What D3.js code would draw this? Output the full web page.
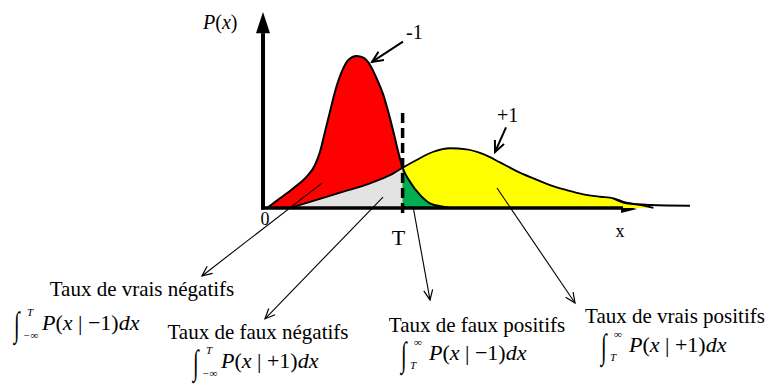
<!DOCTYPE html>
<html>
<head>
<meta charset="utf-8">
<script src="https://cdn.jsdelivr.net/npm/d3@7"></script>
<style>
  body { margin: 0; background: #fff; }
  svg text { font-family: "Liberation Serif", "Times New Roman", serif; fill: #000; }
</style>
</head>
<body>
<div id="chart"></div>
<script>
// decision threshold
var T = 34.9;

// class -1 density
var negX = [1.0, 4.25, 7.6, 10.9, 13, 14.25, 15.5, 16.75, 18, 19.7, 21.3, 23.4, 25.1, 26.75, 28.4, 30.1, 31.3, 32.6, 33.8, 34.9, 36.75, 39.25, 41.75, 45.1, 46.75];
var negP = [0, 0.064, 0.13, 0.206, 0.283, 0.37, 0.502, 0.634, 0.765, 0.897, 0.974, 1.0, 0.989, 0.941, 0.853, 0.743, 0.634, 0.502, 0.37, 0.265, 0.173, 0.086, 0.031, 0.009, 0];

// class +1 density
var posX = [6.75, 11.75, 20.1, 26.75, 30.9, 32.6, 34.9, 38.4, 42.6, 46.75, 50.9, 55.1, 59.25, 63.4, 67.6, 71.75, 75.9, 80.1, 84.25, 87.6, 90.1, 94.25, 97.6];
var posP = [0, 0.041, 0.107, 0.162, 0.206, 0.228, 0.265, 0.316, 0.37, 0.393, 0.386, 0.354, 0.3, 0.243, 0.195, 0.151, 0.118, 0.09, 0.074, 0.064, 0.041, 0.02, 0];

// the +1 outline keeps running along the axis after the fill stops
var posTailX = [87.6, 90.9, 96.75, 106.75];
var posTailP = [0.064, 0.031, 0.02, 0.015];

var labels = {
  vn: ["Taux de vrais négatifs", "\u2212\u221E", "T", "\u22121"],
  fn: ["Taux de faux négatifs", "\u2212\u221E", "T", "+1"],
  fp: ["Taux de faux positifs", "T", "\u221E", "\u22121"],
  vp: ["Taux de vrais positifs", "T", "\u221E", "+1"]
};

var width = 772, height = 385;

var svg = d3.select("#chart")
  .append("svg")
    .attr("width", width)
    .attr("height", height);

var x = d3.scaleLinear().domain([0, 100]).range([263, 663]);
var y = d3.scaleLinear().domain([0, 1]).range([208, 56]);

var neg = negX.map(function(d, i) { return [d, negP[i]]; });
var pos = posX.map(function(d, i) { return [d, posP[i]]; });
var posTail = posTailX.map(function(d, i) { return [d, posTailP[i]]; });

var negLeft = neg.filter(function(d) { return d[0] <= T; }),
    negRight = neg.filter(function(d) { return d[0] >= T; }),
    posLeft = pos.filter(function(d) { return d[0] <= T; }),
    posRight = pos.filter(function(d) { return d[0] >= T; });

var area = d3.area()
  .x(function(d) { return x(d[0]); })
  .y0(y(0))
  .y1(function(d) { return y(d[1]); })
  .curve(d3.curveMonotoneX);

var line = d3.line()
  .x(function(d) { return x(d[0]); })
  .y(function(d) { return y(d[1]); })
  .curve(d3.curveMonotoneX);

// arrow markers
var defs = svg.append("defs");
defs.append("marker")
    .attr("id", "open")
    .attr("markerUnits", "userSpaceOnUse")
    .attr("markerWidth", 14).attr("markerHeight", 12)
    .attr("refX", 11).attr("refY", 5)
    .attr("orient", "auto")
  .append("path")
    .attr("d", "M1,0.5 L11,5 L1,9.5")
    .attr("fill", "none")
    .attr("stroke", "#000")
    .attr("stroke-width", 1.2);
defs.append("marker")
    .attr("id", "bold")
    .attr("markerUnits", "userSpaceOnUse")
    .attr("markerWidth", 16).attr("markerHeight", 14)
    .attr("refX", 12).attr("refY", 6)
    .attr("orient", "auto")
  .append("path")
    .attr("d", "M1,1 L12,6 L1,11")
    .attr("fill", "none")
    .attr("stroke", "#000")
    .attr("stroke-width", 2);

// y axis with arrow
svg.append("line")
  .attr("x1", x(0)).attr("x2", x(0))
  .attr("y1", y(0) + 1.5).attr("y2", y(1.15))
  .attr("stroke", "#000").attr("stroke-width", 4);
svg.append("path")
  .attr("d", "M" + x(0) + "," + y(1.29) + " L" + (x(0) - 7) + "," + y(1.15) + " L" + (x(0) + 7) + "," + y(1.15) + "Z")
  .attr("fill", "#000");

// x axis arrowhead (half hidden under the yellow tail)
svg.append("path")
  .attr("d", "M" + x(93.5) + "," + (y(0) + 1) + " L" + x(89.5) + "," + (y(0) - 3) + " L" + x(89.5) + "," + (y(0) + 5) + "Z")
  .attr("fill", "#000");

// filled regions
svg.append("path").datum(negLeft).attr("d", area).attr("fill", "#ff0000");
svg.append("path").datum(posLeft).attr("d", area).attr("fill", "#e3e3e3");
svg.append("path").datum(posRight).attr("d", area).attr("fill", "#ffff00");
svg.append("path").datum(negRight).attr("d", area).attr("fill", "#00b050");

// curve outlines
svg.append("path").datum(neg).attr("d", line)
  .attr("fill", "none").attr("stroke", "#000").attr("stroke-width", 2);
svg.append("path").datum(pos).attr("d", line)
  .attr("fill", "none").attr("stroke", "#000").attr("stroke-width", 1.8);
svg.append("path").datum(posTail).attr("d", line)
  .attr("fill", "none").attr("stroke", "#000").attr("stroke-width", 2);

// x axis line
svg.append("line")
  .attr("x1", x(-0.5)).attr("x2", x(90))
  .attr("y1", y(0)).attr("y2", y(0))
  .attr("stroke", "#000").attr("stroke-width", 3.5);

// threshold
svg.append("line")
  .attr("x1", x(T)).attr("x2", x(T))
  .attr("y1", y(0.625)).attr("y2", y(-0.06))
  .attr("stroke", "#000").attr("stroke-width", 3.5)
  .attr("stroke-dasharray", "10,5");

// axis labels
var pl = svg.append("text").attr("x", 203).attr("y", 29).attr("font-size", 20);
pl.append("tspan").attr("font-style", "italic").text("P");
pl.append("tspan").text("(");
pl.append("tspan").attr("font-style", "italic").text("x");
pl.append("tspan").text(")");

svg.append("text").attr("x", x(0) + 2).attr("y", 225).attr("font-size", 18)
  .attr("text-anchor", "middle").text("0");
svg.append("text").attr("x", x(T) - 4).attr("y", 245).attr("font-size", 22)
  .attr("text-anchor", "middle").text("T");
svg.append("text").attr("x", 620).attr("y", 237).attr("font-size", 18)
  .attr("text-anchor", "middle").text("x");

// class labels with arrows
svg.append("text").attr("x", 406).attr("y", 39).attr("font-size", 20).text("-1");
svg.append("line")
  .attr("x1", x(35)).attr("y1", y(1.094))
  .attr("x2", x(27.25)).attr("y2", y(0.961))
  .attr("stroke", "#000").attr("stroke-width", 2)
  .attr("marker-end", "url(#bold)");

svg.append("text").attr("x", 497).attr("y", 122).attr("font-size", 20).text("+1");
svg.append("line")
  .attr("x1", x(60.75)).attr("y1", y(0.53))
  .attr("x2", x(58)).attr("y2", y(0.368))
  .attr("stroke", "#000").attr("stroke-width", 2)
  .attr("marker-end", "url(#bold)");

// pointers from each region to its caption
var pointers = [
  [14.75, 0.164, -15.25, -0.447],
  [30, 0.072, 0.5, -0.729],
  [37.5, 0.012, 41.75, -0.605],
  [58.5, 0.132, 78, -0.625]
];
pointers.forEach(function(p) {
  svg.append("line")
    .attr("x1", x(p[0])).attr("y1", y(p[1]))
    .attr("x2", x(p[2])).attr("y2", y(p[3]))
    .attr("stroke", "#000").attr("stroke-width", 1.1)
    .attr("marker-end", "url(#open)");
});

// caption + integral
function caption(lab, cx, cy, fx, fy) {
  svg.append("text")
    .attr("x", cx).attr("y", cy - 1)
    .attr("font-size", 21)
    .attr("text-anchor", "middle")
    .text(lab[0]);

  svg.append("text")
    .attr("transform", "translate(" + (fx + 1) + "," + (fy + 6) + ") scale(0.85,1.45)")
    .attr("font-size", 24)
    .text("\u222B");
  svg.append("text")
    .attr("x", fx + 10).attr("y", fy + 9)
    .attr("font-size", 11).attr("font-style", "italic")
    .text(lab[1]);
  svg.append("text")
    .attr("x", fx + 14).attr("y", fy - 14)
    .attr("font-size", 11).attr("font-style", "italic")
    .text(lab[2]);

  var t = svg.append("text").attr("x", fx + 29).attr("y", fy).attr("font-size", 22);
  t.append("tspan").attr("font-style", "italic").text("P");
  t.append("tspan").text("(");
  t.append("tspan").attr("font-style", "italic").text("x");
  t.append("tspan").text(" | " + lab[3] + ")");
  t.append("tspan").attr("font-style", "italic").text("dx");
}

caption(labels.vn, 142, 297, 13, 330);
caption(labels.fn, 258, 340, 192, 368);
caption(labels.fp, 477, 333, 400, 360);
caption(labels.vp, 675, 324, 600, 352);
</script>
</body>
</html>
